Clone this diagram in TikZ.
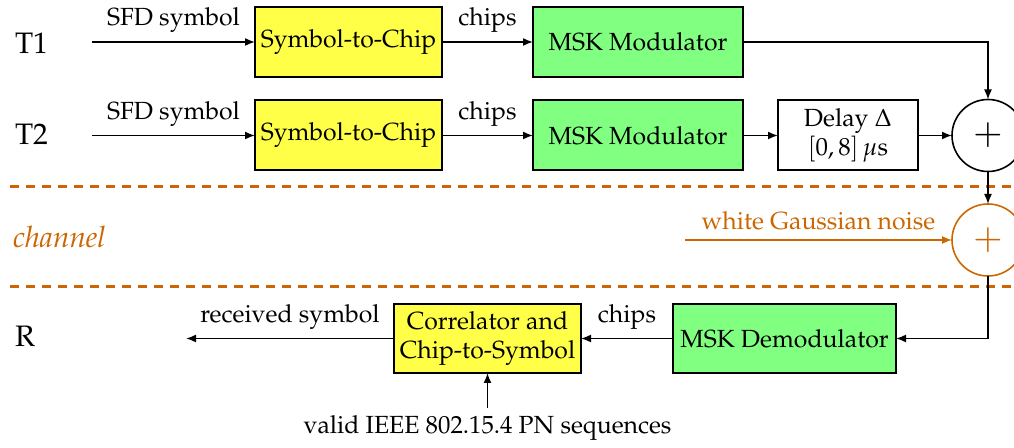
\documentclass[tikz,border=0pt]{standalone}
\usepackage[T1]{fontenc}
\usepackage{mathpazo}
\usetikzlibrary{arrows.meta}
\definecolor{chan}{RGB}{204,102,0}
\definecolor{yel}{RGB}{255,255,72}
\definecolor{grn}{RGB}{128,255,128}
\begin{document}
\begin{tikzpicture}[x=0.5pt,y=-0.5pt,
  font=\fontsize{12.4}{14.5}\selectfont,
  blk/.style={draw, line width=1pt, outer sep=0pt, inner sep=1pt, minimum height=35pt, align=center},
  ybox/.style={blk, fill=yel, minimum width=93.5pt},
  gbox/.style={blk, fill=grn, minimum width=105pt},
  sum/.style={draw, circle, line width=0.8pt, minimum size=36pt, inner sep=0pt, outer sep=0pt, font=\fontsize{18}{18}\selectfont},
  conn/.style={line width=0.8pt, -{Latex[length=5pt,width=4pt]}},
  sep/.style={chan, line width=1.5pt, dash pattern=on 4.5pt off 3.5pt},
  side/.style={anchor=west, font=\fontsize{14.8}{17}\selectfont}]
\useasboundingbox (0,0) rectangle (1014,448);
% separators
\draw[sep] (10,187) -- (1014,187);
\draw[sep] (10,287) -- (1014,287);
% side labels
\node[side] (lt1) at (8,43) {T1};
\node[side] (lt2) at (8,134) {T2};
\node[side, text=chan] (lch) at (6,237) {\itshape channel};
\node[side] (lr) at (8,336) {R};
% blocks
\node[ybox] (s1) at (348.5,42) {Symbol-to-Chip};
\node[gbox] (m1) at (638,42) {MSK Modulator};
\node[ybox] (s2) at (348.5,135.5) {Symbol-to-Chip};
\node[gbox] (m2) at (638,135.5) {MSK Modulator};
\node[blk, minimum width=70pt] (d) at (848,135.5) {Delay $\Delta$\\$[0,8]\,\mu$s};
\node[sum] (a1) at (988,135.5) {$+$};
\node[sum, draw=chan, text=chan] (a2) at (988,240) {$+$};
\node[gbox, minimum width=111.5pt, minimum height=34.5pt] (dm) at (784.5,338.5) {MSK Demodulator};
\node[ybox, minimum height=34.5pt] (co) at (487.5,338.5) {Correlator and\\Chip-to-Symbol};
\node (pn) at (487.5,428) {valid IEEE 802.15.4 PN sequences};
% free ends
\coordinate (in1) at (92,42);
\coordinate (in2) at (92,135.5);
\coordinate (nz) at (685,240);
\coordinate (rx) at (186,338.5);
\coordinate (pnt) at (487.5,408);
% connectors
\draw[conn] (in1) -- node[above, yshift=1pt] {SFD symbol} (s1);
\draw[conn] (in2) -- node[above, yshift=1pt] {SFD symbol} (s2);
\draw[conn] (s1) -- node[above, yshift=1pt] {chips} (m1);
\draw[conn] (s2) -- node[above, yshift=1pt] {chips} (m2);
\draw[conn] (m1.east) -| (a1.north);
\draw[conn] (m2) -- (d);
\draw[conn] (d) -- (a1);
\draw[conn] (a1) -- (a2);
\draw[conn, chan] (nz) -- node[above, yshift=1pt] {white Gaussian noise} (a2);
\draw[conn] (a2.south) |- (dm.east);
\draw[conn] (dm) -- node[above, yshift=1pt] {chips} (co);
\draw[conn] (co) -- node[above, yshift=1pt] {received symbol} (rx);
\draw[conn] (pnt) -- (co.south);
\end{tikzpicture}
\end{document}
